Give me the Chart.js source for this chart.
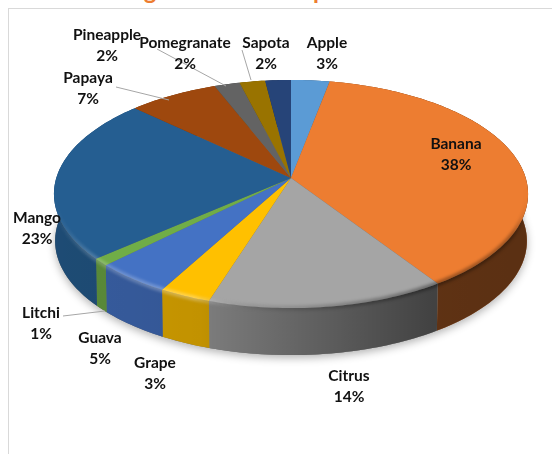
<!DOCTYPE html>
<html>
<head>
<meta charset="utf-8">
<style>
html, body { margin: 0; padding: 0; background: #fff; overflow: hidden; }
#wrap { position: relative; width: 552px; height: 454px; overflow: hidden; }
#frame { position: absolute; left: 8px; top: 8px; right: 0; bottom: 0; border-left: 1px solid #d9d9d9; border-top: 1px solid #d9d9d9; }
#title { position: absolute; left: 124px; top: -27px; font: bold 24px/34px Lato, sans-serif; color: #ed7d31; white-space: nowrap; }
canvas { position: absolute; left: 0; top: 0; }
</style>
</head>
<body>
<div id="wrap">
    <div id="title">Figure 1: Fruit crop scenario</div>
    <div id="frame"></div>
    <canvas id="pie" width="552" height="454"></canvas>
</div>
<script src="https://cdn.jsdelivr.net/npm/chart.js@4"></script>
<script>
const categories = ['Apple', 'Banana', 'Citrus', 'Grape', 'Guava', 'Litchi', 'Mango', 'Papaya', 'Pomegranate', 'Sapota', 'Pineapple'];
const shares = [3, 37.7, 14.2, 3.1, 4.6, 1, 23.4, 7, 2, 2, 2];
const sliceColors = ['#5b9bd5', '#ed7d31', '#a5a5a5', '#ffc000', '#4472c4', '#70ad47', '#255e91', '#9e480e', '#636363', '#997300', '#264478'];

// where the labels sit: [centre x, first line y]
const labelSpots = {
    Apple: [327, 43], Banana: [456, 144], Citrus: [349, 376], Grape: [155, 363], Guava: [100, 338],
    Litchi: [41, 313], Mango: [37, 218], Papaya: [88, 78], Pomegranate: [185, 43], Sapota: [266, 43], Pineapple: [107, 35]
};
// leader lines
const leaders = [
    [[116, 87], [169, 100]],
    [[157, 49], [226, 86]],
    [[242, 50], [251, 80]],
    [[63, 316], [105, 311]]
];

// tilted pie geometry
const centerX = 291, centerY = 178, radiusX = 234.7, radiusY = 111.8, tilt = 0.1404, wallHeight = 47;

function topPoint(angle) {
    const u = Math.cos(angle), v = Math.sin(angle);
    const d = 1 - tilt * v;
    return [centerX + radiusX * u / d, centerY + radiusY * v / d];
}

function wallPoint(angle) {
    const p = topPoint(angle);
    return [centerX + (p[0] - centerX) * 0.995, p[1] + wallHeight];
}

function tracePath(ctx, from, to, fn, reverse) {
    const steps = Math.max(2, Math.ceil(Math.abs(to - from) / 0.02));
    for (let i = 0; i <= steps; i++) {
        const t = reverse ? 1 - i / steps : i / steps;
        const p = fn(from + (to - from) * t);
        ctx.lineTo(p[0], p[1]);
    }
}

function wallShade(ctx) {
    const g = ctx.createLinearGradient(53, 0, 527, 0);
    g.addColorStop(0, 'rgba(0,0,0,0.2)');
    g.addColorStop(0.31, 'rgba(0,0,0,0.24)');
    g.addColorStop(0.8, 'rgba(0,0,0,0.6)');
    g.addColorStop(1, 'rgba(0,0,0,0.62)');
    return g;
}

const tiltedPie = {
    id: 'tiltedPie',
    beforeDatasetsDraw(chart) {
        const ctx = chart.ctx;
        const arcs = chart.getDatasetMeta(0).data;
        ctx.save();

        // soft shadow under the body
        ctx.save();
        ctx.shadowColor = 'rgba(0,0,0,0.3)';
        ctx.shadowBlur = 8;
        ctx.shadowOffsetY = 3;
        ctx.fillStyle = '#666';
        ctx.beginPath();
        tracePath(ctx, 0, Math.PI * 2, wallPoint);
        ctx.closePath();
        ctx.fill();
        ctx.restore();

        // walls
        arcs.forEach((arc, i) => {
            ctx.beginPath();
            tracePath(ctx, arc.startAngle, arc.endAngle, topPoint);
            tracePath(ctx, arc.startAngle, arc.endAngle, wallPoint, true);
            ctx.closePath();
            ctx.fillStyle = sliceColors[i];
            ctx.fill();
            ctx.fillStyle = wallShade(ctx);
            ctx.fill();
        });

        // top faces
        arcs.forEach((arc, i) => {
            ctx.beginPath();
            ctx.moveTo(centerX, centerY);
            tracePath(ctx, arc.startAngle, arc.endAngle, topPoint);
            ctx.closePath();
            ctx.fillStyle = sliceColors[i];
            ctx.fill();
        });

        // bevel along the front rim, fades out at both ends
        const bevel = ctx.createLinearGradient(53, 0, 527, 0);
        bevel.addColorStop(0, 'rgba(255,255,255,0)');
        bevel.addColorStop(0.08, 'rgba(255,255,255,0.18)');
        bevel.addColorStop(0.3, 'rgba(255,255,255,0.3)');
        bevel.addColorStop(0.46, 'rgba(0,0,0,0.1)');
        bevel.addColorStop(0.8, 'rgba(0,0,0,0.35)');
        bevel.addColorStop(0.97, 'rgba(0,0,0,0.3)');
        bevel.addColorStop(1, 'rgba(0,0,0,0)');
        ctx.filter = 'blur(1.5px)';
        ctx.beginPath();
        tracePath(ctx, 0.1, Math.PI - 0.1, topPoint);
        ctx.strokeStyle = bevel;
        ctx.lineWidth = 5;
        ctx.stroke();
        ctx.filter = 'none';

        ctx.restore();
        return false;
    },
    afterDraw(chart) {
        const ctx = chart.ctx;
        ctx.save();
        ctx.strokeStyle = '#a6a6a6';
        ctx.lineWidth = 1;
        leaders.forEach(line => {
            ctx.beginPath();
            ctx.moveTo(line[0][0], line[0][1]);
            ctx.lineTo(line[1][0], line[1][1]);
            ctx.stroke();
        });
        ctx.fillStyle = '#111';
        ctx.font = 'bold 15.5px Lato, sans-serif';
        ctx.textAlign = 'center';
        ctx.textBaseline = 'middle';
        categories.forEach((name, i) => {
            const spot = labelSpots[name];
            ctx.fillText(name, spot[0], spot[1]);
            ctx.fillText(Math.round(shares[i]) + '%', spot[0], spot[1] + 21);
        });
        ctx.restore();
    }
};

new Chart(document.getElementById('pie').getContext('2d'), {
    type: 'pie',
    data: {
        labels: categories,
        datasets: [{ data: shares, backgroundColor: sliceColors, borderWidth: 0 }]
    },
    options: {
        responsive: false,
        animation: false,
        plugins: { legend: { display: false }, tooltip: { enabled: false } }
    },
    plugins: [tiltedPie]
});
</script>
</body>
</html>
